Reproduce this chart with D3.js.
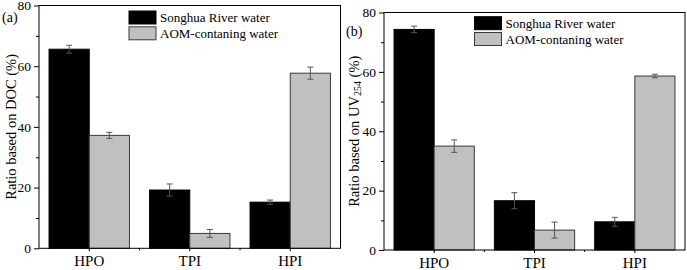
<!DOCTYPE html>
<html>
<head>
<meta charset="utf-8">
<script src="https://cdn.jsdelivr.net/npm/d3@7"></script>
<style>
  body { margin: 0; background: #fff; }
  svg { display: block; font-family: "Liberation Serif", "Times New Roman", serif; }
</style>
</head>
<body>
<svg id="chart" width="687" height="270"></svg>
<script>
// categories and series
const categories = ["HPO", "TPI", "HPI"];
const seriesNames = ["Songhua River water", "AOM-contaning water"];
const yTicks = [0, 20, 40, 60, 80];

// panel (a): ratio based on DOC (%)
const docRiver = [65.6, 19.2, 15.2];
const docRiverErr = [1.3, 2.0, 0.7];
const docAom = [37.2, 4.9, 57.7];
const docAomErr = [1.0, 1.3, 2.0];

// panel (b): ratio based on UV254 (%)
const uvRiver = [74.3, 16.6, 9.5];
const uvRiverErr = [1.1, 2.7, 1.5];
const uvAom = [35.0, 6.7, 58.6];
const uvAomErr = [2.1, 2.7, 0.6];

const fills = ["#000000", "#c0c0c0"];
const svg = d3.select("#chart");

function drawPanel(p) {
    const g = svg.append("g");

    const x = d3.scaleBand()
        .domain(categories)
        .range([p.left, p.right])
        .paddingInner(0.2)
        .paddingOuter(0.1);

    const xSub = d3.scaleBand()
        .domain([0, 1])
        .range([0, x.bandwidth()]);

    const y = d3.scaleLinear()
        .domain([0, 80])
        .range([p.bottom, p.top]);

    // rows: one per bar
    const rows = [];
    categories.forEach((c, i) => {
        rows.push({ cat: c, s: 0, v: p.series[0][i], e: p.errs[0][i] });
        rows.push({ cat: c, s: 1, v: p.series[1][i], e: p.errs[1][i] });
    });

    g.selectAll("rect.bar")
        .data(rows)
        .join("rect")
        .attr("class", "bar")
        .attr("x", d => x(d.cat) + xSub(d.s))
        .attr("y", d => y(d.v))
        .attr("width", xSub.bandwidth())
        .attr("height", d => y(0) - y(d.v))
        .attr("fill", d => fills[d.s])
        .attr("stroke", d => d.s === 0 ? "#000" : "#3a3a3a")
        .attr("stroke-width", 1);

    // error bars
    const eb = g.selectAll("g.err")
        .data(rows)
        .join("g")
        .attr("class", "err")
        .attr("stroke", "#555")
        .attr("stroke-width", 1);
    const cx = d => x(d.cat) + xSub(d.s) + xSub.bandwidth() / 2;
    eb.append("line")
        .attr("x1", cx).attr("x2", cx)
        .attr("y1", d => y(d.v - d.e)).attr("y2", d => y(d.v + d.e));
    eb.append("line")
        .attr("x1", d => cx(d) - 3).attr("x2", d => cx(d) + 3)
        .attr("y1", d => y(d.v + d.e)).attr("y2", d => y(d.v + d.e));
    eb.append("line")
        .attr("x1", d => cx(d) - 3).attr("x2", d => cx(d) + 3)
        .attr("y1", d => y(d.v - d.e)).attr("y2", d => y(d.v - d.e));

    // frame
    g.append("rect")
        .attr("x", p.left).attr("y", p.top)
        .attr("width", p.right - p.left).attr("height", p.bottom - p.top)
        .attr("fill", "none").attr("stroke", "#000").attr("stroke-width", 1);

    // y axis
    const yAxis = g.append("g")
        .attr("transform", `translate(${p.left},0)`)
        .call(d3.axisLeft(y).tickValues(yTicks).tickSize(5).tickPadding(3));
    yAxis.select(".domain").remove();
    yAxis.selectAll("text").attr("font-size", "13.5px").attr("font-family", "Liberation Serif").attr("fill", "#000");

    g.append("g")
        .attr("transform", `translate(${p.left},0)`)
        .call(d3.axisLeft(y).tickValues([10, 30, 50, 70]).tickSize(3).tickFormat(""))
        .select(".domain").remove();

    // x axis
    const xAxis = g.append("g")
        .attr("transform", `translate(0,${p.bottom})`)
        .call(d3.axisBottom(x).tickSize(3).tickPadding(4));
    xAxis.select(".domain").remove();
    xAxis.selectAll("text").attr("font-size", "15px").attr("font-family", "Liberation Serif").attr("fill", "#000");

    const mids = [0, 1].map(i => (x(categories[i]) + x(categories[i + 1]) + x.bandwidth()) / 2);
    g.selectAll("line.xminor")
        .data(mids)
        .join("line")
        .attr("class", "xminor")
        .attr("x1", d => d).attr("x2", d => d)
        .attr("y1", p.bottom).attr("y2", p.bottom + 2)
        .attr("stroke", "#000");

    // y label
    const yl = g.append("text")
        .attr("transform", `translate(${p.labelX},${(p.top + p.bottom) / 2}) rotate(-90)`)
        .attr("text-anchor", "middle")
        .attr("dominant-baseline", "central")
        .attr("font-size", "14.5px");
    yl.append("tspan").text(p.labelPre);
    if (p.labelSub) {
        yl.append("tspan").attr("font-size", "10px").attr("baseline-shift", "-3").text(p.labelSub);
        yl.append("tspan").text(p.labelPost);
    }

    // panel tag
    g.append("text")
        .attr("x", p.tagX).attr("y", p.tagY)
        .attr("font-size", "14px")
        .text(p.tag);

    // legend
    const lg = g.selectAll("g.leg")
        .data(seriesNames)
        .join("g")
        .attr("class", "leg")
        .attr("transform", (d, i) => `translate(${p.legX},${p.legY + i * 15.8})`);
    lg.append("rect")
        .attr("width", 27).attr("height", 13)
        .attr("fill", (d, i) => fills[i])
        .attr("stroke", (d, i) => i === 0 ? "#000" : "#3a3a3a");
    lg.append("text")
        .attr("x", 31).attr("y", 11)
        .attr("font-size", "13px")
        .text(d => d);
}

drawPanel({
    left: 39, right: 340.5, top: 5.5, bottom: 248.3,
    series: [docRiver, docAom], errs: [docRiverErr, docAomErr],
    labelX: 11, labelPre: "Ratio based on DOC (%)",
    tag: "(a)", tagX: 2, tagY: 22,
    legX: 129, legY: 11
});

drawPanel({
    left: 384, right: 685, top: 12.5, bottom: 250,
    series: [uvRiver, uvAom], errs: [uvRiverErr, uvAomErr],
    labelX: 354, labelPre: "Ratio based on UV", labelSub: "254", labelPost: " (%)",
    tag: "(b)", tagX: 346, tagY: 36,
    legX: 474.5, legY: 16.7
});
</script>
</body>
</html>
